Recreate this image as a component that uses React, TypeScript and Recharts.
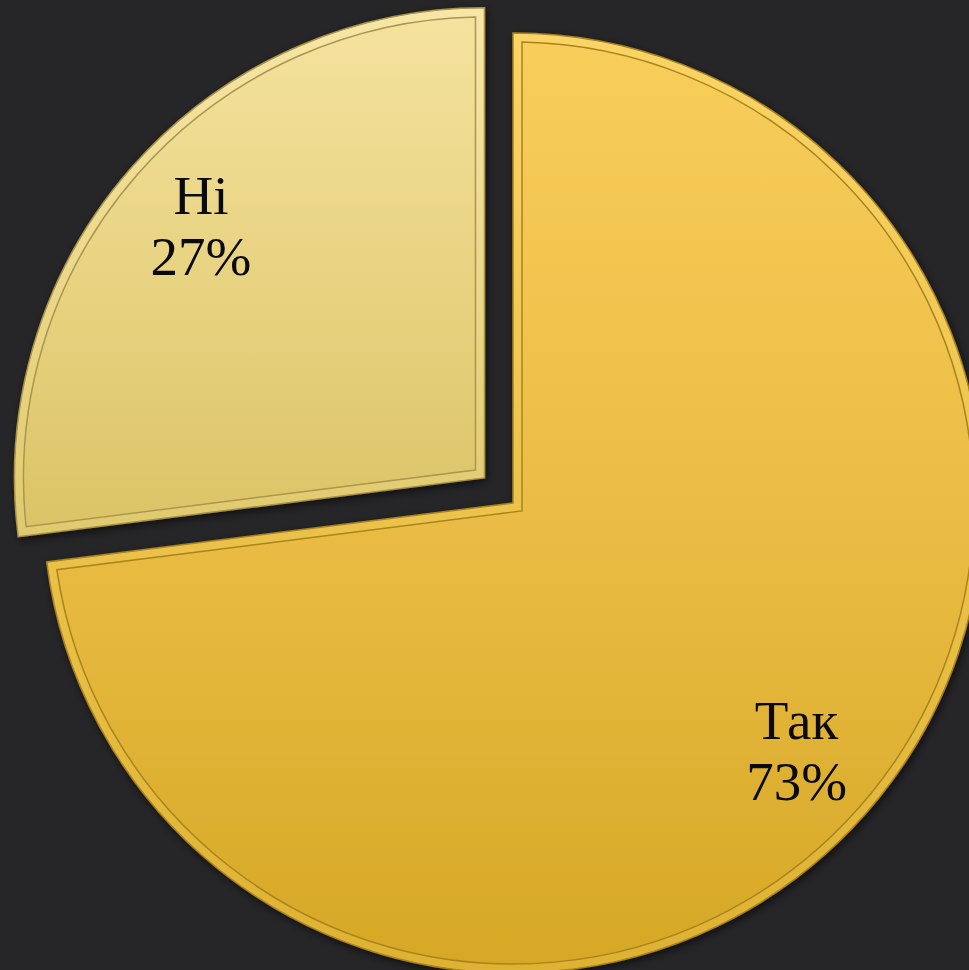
import { PieChart, Pie } from "recharts";

// Survey answers (percent)
const answers = ["Так", "Ні"];
const shares = [73, 27];

const EXPLODED = "Ні";
const EXPLODE_OFFSET = 38;
const BEVEL = 9;

const sliceData = answers.map((name, i) => ({ name, value: shares[i] }));

const rad = Math.PI / 180;
const pt = (cx: number, cy: number, r: number, a: number) => [
  cx + r * Math.cos(a * rad),
  cy - r * Math.sin(a * rad),
];

function outerPath(cx: number, cy: number, r: number, a1: number, a2: number) {
  const [x1, y1] = pt(cx, cy, r, a1);
  const [x2, y2] = pt(cx, cy, r, a2);
  const large = Math.abs(a1 - a2) > 180 ? 1 : 0;
  const sweep = a1 > a2 ? 1 : 0;
  return `M${cx},${cy} L${x1},${y1} A${r},${r} 0 ${large} ${sweep} ${x2},${y2} Z`;
}

// same sector shrunk inward by d on every side (mitred corner)
function insetPath(cx: number, cy: number, r: number, a1: number, a2: number, d: number) {
  const theta = Math.abs(a1 - a2);
  const mid = (a1 + a2) / 2;
  const cw = a1 > a2;
  const [px, py] = pt(cx, cy, d / Math.sin((theta / 2) * rad), mid);
  const rr = r - d;
  const s = Math.sqrt(rr * rr - d * d);
  const n1 = cw ? a1 - 90 : a1 + 90;
  const n2 = cw ? a2 + 90 : a2 - 90;
  const [n1x, n1y] = pt(0, 0, d, n1);
  const [u1x, u1y] = pt(0, 0, s, a1);
  const [n2x, n2y] = pt(0, 0, d, n2);
  const [u2x, u2y] = pt(0, 0, s, a2);
  const q1 = [cx + n1x + u1x, cy + n1y + u1y];
  const q2 = [cx + n2x + u2x, cy + n2y + u2y];
  const large = theta > 180 ? 1 : 0;
  const sweep = cw ? 1 : 0;
  return `M${px},${py} L${q1[0]},${q1[1]} A${rr},${rr} 0 ${large} ${sweep} ${q2[0]},${q2[1]} Z`;
}

const shift = (name: string, midAngle: number) => {
  if (name !== EXPLODED) return [0, 0];
  return pt(0, 0, EXPLODE_OFFSET, midAngle);
};

const renderSlice = (props: any) => {
  const { cx, cy, outerRadius, startAngle, endAngle, midAngle } = props;
  const name = props.name ?? props.payload?.name;
  const [dx, dy] = shift(name, midAngle);
  const x = cx + dx;
  const y = cy + dy;
  const light = name === EXPLODED;
  return (
    <g filter="url(#sliceShadow)">
      <path
        d={outerPath(x, y, outerRadius, startAngle, endAngle)}
        fill={light ? "url(#niBand)" : "url(#takBand)"}
        stroke={light ? "#a99348" : "#a98220"}
        strokeWidth={1.5}
      />
      <path
        d={insetPath(x, y, outerRadius, startAngle, endAngle, BEVEL + 1.5)}
        fill="none"
        stroke={light ? "#fff6c8" : "#ffe48a"}
        strokeOpacity={0.6}
        strokeWidth={1.2}
      />
      <path
        d={insetPath(x, y, outerRadius, startAngle, endAngle, BEVEL)}
        fill={light ? "url(#niFill)" : "url(#takFill)"}
        stroke={light ? "#ab9550" : "#a9841f"}
        strokeWidth={1.5}
      />
    </g>
  );
};

const renderLabel = (props: any) => {
  const { cx, cy, midAngle, name, value } = props;
  const [dx, dy] = shift(name, midAngle);
  const [x, y] = pt(cx + dx, cy + dy, 378, midAngle);
  return (
    <text
      x={x}
      y={y}
      textAnchor="middle"
      fill="#0a0a0a"
      fontFamily="'Liberation Serif', 'DejaVu Serif', serif"
      fontSize={55}
    >
      <tspan x={x} y={y - 14}>
        {name}
      </tspan>
      <tspan x={x} y={y + 47}>
        {value}%
      </tspan>
    </text>
  );
};

export default function App() {
  return (
    <div
      style={{
        position: "fixed",
        left: 0,
        top: 0,
        width: 969,
        height: 970,
        overflow: "hidden",
        background: "#262629",
      }}
    >
      <PieChart width={969} height={970} margin={{ top: 0, right: 0, bottom: 0, left: 0 }}>
        <defs>
          <linearGradient id="takFill" x1="0" y1="0" x2="0" y2="1">
            <stop offset="0%" stopColor="#f8cd5a" />
            <stop offset="50%" stopColor="#ebbd45" />
            <stop offset="100%" stopColor="#d6a826" />
          </linearGradient>
          <linearGradient id="takBand" x1="0" y1="0" x2="0" y2="1">
            <stop offset="0%" stopColor="#fad465" />
            <stop offset="100%" stopColor="#deb232" />
          </linearGradient>
          <linearGradient id="niFill" x1="0" y1="0" x2="0" y2="1">
            <stop offset="0%" stopColor="#f5e29e" />
            <stop offset="100%" stopColor="#dbc466" />
          </linearGradient>
          <linearGradient id="niBand" x1="0" y1="0" x2="0" y2="1">
            <stop offset="0%" stopColor="#f7e6a6" />
            <stop offset="100%" stopColor="#e0ca6e" />
          </linearGradient>
          <filter id="sliceShadow" x="-10%" y="-10%" width="120%" height="120%">
            <feDropShadow dx={2} dy={3} stdDeviation={4} floodColor="#000" floodOpacity={0.6} />
          </filter>
        </defs>
        <Pie
          data={sliceData}
          dataKey="value"
          nameKey="name"
          cx={513}
          cy={503}
          outerRadius={470}
          startAngle={90}
          endAngle={-270}
          stroke="none"
          labelLine={false}
          label={renderLabel}
          shape={renderSlice}
          isAnimationActive={false}
        />
      </PieChart>
    </div>
  );
}
